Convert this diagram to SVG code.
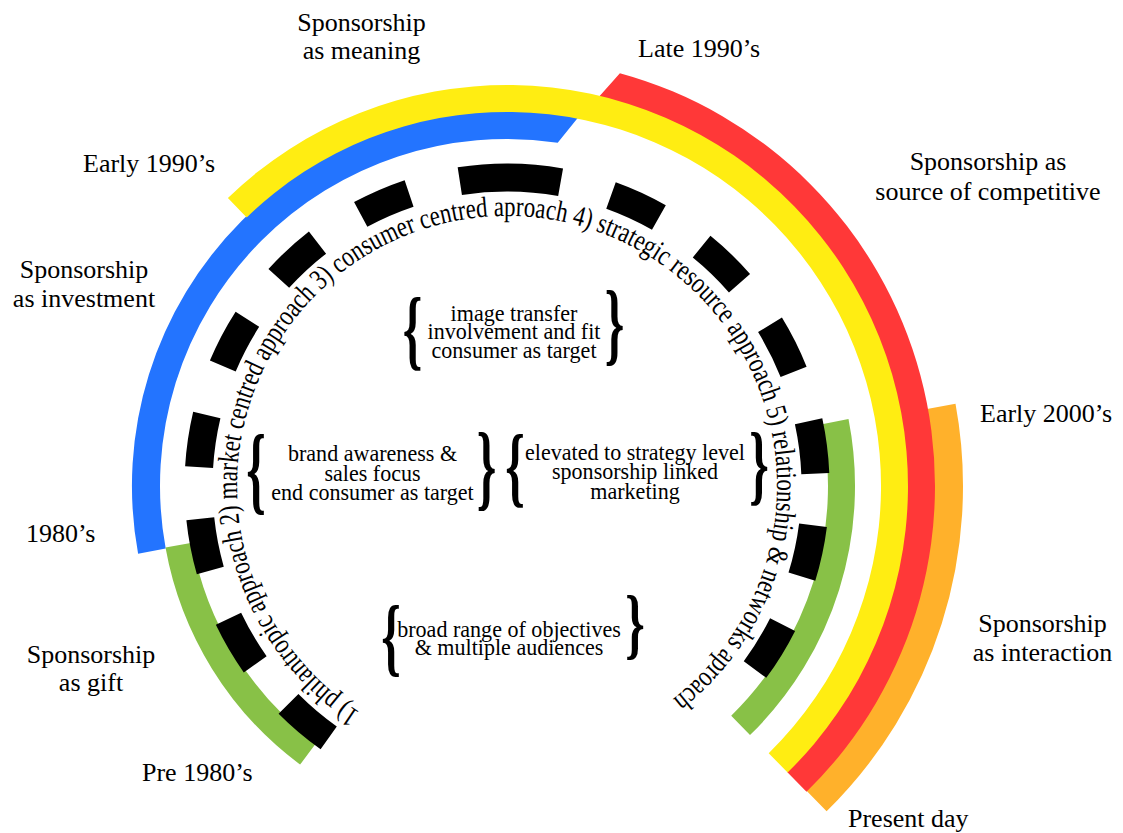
<svg xmlns="http://www.w3.org/2000/svg" width="1123" height="833" viewBox="0 0 1123 833">
<style>
text{font-family:"Liberation Serif","Times New Roman",serif;fill:#000}
.lbl{font-size:26px}
.lm{font-size:26px;text-anchor:middle}
.mid{font-size:24px;text-anchor:middle}
.br{font-size:62px;text-anchor:middle;font-weight:bold}
.ring{font-size:29px}
.dash{fill:none;stroke:#000;stroke-width:28;stroke-linecap:butt}
</style>
<defs>
<path id="ringPath" d="M 360.0 712.4 A 270 270 0 1 1 654.0 712.4"/>
</defs>
<rect width="1123" height="833" fill="#fff"/>
<g id="bands">
<path id="band-orange" fill="#FFB12B" d="M 955.5 403.7 A 456 456 0 0 1 826.6 811.3 L 806.3 790.6 A 427 427 0 0 0 927.0 408.9 Z"/>
<path id="band-red" fill="#FF3838" d="M 619.9 73.2 A 428 428 0 0 1 920.4 375.2 A 428 428 0 0 1 806.5 791.8 L 786.9 771.8 A 400 400 0 0 0 893.4 382.5 A 400 400 0 0 0 599.0 96.7 Z"/>
<path id="band-blue" fill="#2374FF" d="M 138.1 553.7 A 375 375 0 0 1 241.8 220.8 A 375 375 0 0 1 577.9 117.7 L 557.7 142.7 A 347 347 0 0 0 261.6 240.6 A 347 347 0 0 0 165.7 548.6 Z"/>
<path id="band-green-left" fill="#88C147" d="M 300.1 764.6 A 347 347 0 0 1 165.5 547.5 L 192.1 542.7 A 320 320 0 0 0 316.2 742.9 Z"/>
<path id="band-green-right" fill="#88C147" d="M 848.5 419.0 A 348 348 0 0 1 750.0 735.1 L 731.2 715.7 A 321 321 0 0 0 822.0 424.2 Z"/>
<path id="band-yellow" fill="#FFED12" d="M 227.9 198.0 A 401 401 0 0 1 794.2 206.2 A 401 401 0 0 1 787.6 772.5 L 768.7 753.2 A 374 374 0 0 0 774.9 225.0 A 374 374 0 0 0 246.7 217.4 Z"/>
</g>
<g id="dashes">
<path class="dash" d="M 328.7 737.8 A 308.5 308.5 0 0 1 288.5 703.8 M 255.2 664.3 A 308.5 308.5 0 0 1 228.5 618.8 M 210.3 570.5 A 308.5 308.5 0 0 1 200.3 518.8 M 199.1 467.2 A 308.5 308.5 0 0 1 206.8 415.0 M 222.8 366.0 A 308.5 308.5 0 0 1 247.4 319.3 M 278.8 278.4 A 308.5 308.5 0 0 1 317.5 242.6 M 360.7 214.4 A 308.5 308.5 0 0 1 409.1 193.4 M 459.8 181.1 A 308.5 308.5 0 0 1 560.6 182.2 M 611.0 195.5 A 308.5 308.5 0 0 1 658.9 217.5 M 701.6 246.6 A 308.5 308.5 0 0 1 739.5 283.2 M 770.0 324.8 A 308.5 308.5 0 0 1 793.6 371.9 M 808.6 421.3 A 308.5 308.5 0 0 1 815.3 473.6 M 813.0 525.2 A 308.5 308.5 0 0 1 801.9 576.7 M 782.6 624.6 A 308.5 308.5 0 0 1 755.0 669.5"/>
</g>
<g id="approaches">
<text class="ring"><textPath href="#ringPath" textLength="1362" lengthAdjust="spacingAndGlyphs">1) philantropic approach 2) market centred approach 3) consumer centred aproach 4) strategic resource approach 5) relationship &amp; networks aproach</textPath></text>
</g>
<g id="labels">
<text class="lm" x="361.5" y="30.5">Sponsorship<tspan x="361.5" y="59">as meaning</tspan></text>
<text class="lbl" x="638" y="57.3">Late 1990’s</text>
<text class="lm" x="988" y="169.5">Sponsorship as<tspan x="988" y="199.5">source of competitive</tspan></text>
<text class="lbl" x="83" y="172.3">Early 1990’s</text>
<text class="lm" x="84" y="278.3">Sponsorship<tspan x="84" y="306.7">as investment</tspan></text>
<text class="lbl" x="26" y="542.3">1980’s</text>
<text class="lm" x="91" y="662.7">Sponsorship<tspan x="91" y="690.5">as gift</tspan></text>
<text class="lbl" x="142" y="780.7">Pre 1980’s</text>
<text class="lbl" x="980" y="422.3">Early 2000’s</text>
<text class="lm" x="1042.5" y="632.3">Sponsorship<tspan x="1042.5" y="660.7">as interaction</tspan></text>
<text class="lbl" x="848" y="826.5">Present day</text>
</g>
<g id="block-image">
<text class="br" transform="translate(412.5,337) scale(0.8,1.45)" y="15">{</text>
<text class="br" transform="translate(614.5,330.5) scale(0.8,1.47)" y="15">}</text>
<g transform="translate(514,0) scale(0.92,1)"><text class="mid" x="0" y="321">image transfer<tspan x="0" y="339.5">involvement and fit</tspan><tspan x="0" y="358">consumer as target</tspan></text></g>
</g>
<g id="block-brand">
<text class="br" transform="translate(256,478) scale(0.8,1.57)" y="15">{</text>
<text class="br" transform="translate(486.5,474.5) scale(0.8,1.55)" y="15">}</text>
<g transform="translate(372.5,0) scale(0.92,1)"><text class="mid" x="0" y="461.5">brand awareness &amp;<tspan x="0" y="481">sales focus</tspan><tspan x="0" y="500.5">end consumer as target</tspan></text></g>
</g>
<g id="block-strategy">
<text class="br" transform="translate(515,474) scale(0.8,1.45)" y="15">{</text>
<text class="br" transform="translate(759,472) scale(0.8,1.45)" y="15">}</text>
<g transform="translate(635,0) scale(0.92,1)"><text class="mid" x="0" y="460">elevated to strategy level<tspan x="0" y="479.5">sponsorship linked</tspan><tspan x="0" y="499">marketing</tspan></text></g>
</g>
<g id="block-broad">
<text class="br" transform="translate(391,643.5) scale(0.8,1.4)" y="15">{</text>
<text class="br" transform="translate(635,631.5) scale(0.8,1.26)" y="15">}</text>
<g transform="translate(509,0) scale(0.92,1)"><text class="mid" x="0" y="636.7">broad range of objectives<tspan x="0" y="655">&amp; multiple audiences</tspan></text></g>
</g>
</svg>
